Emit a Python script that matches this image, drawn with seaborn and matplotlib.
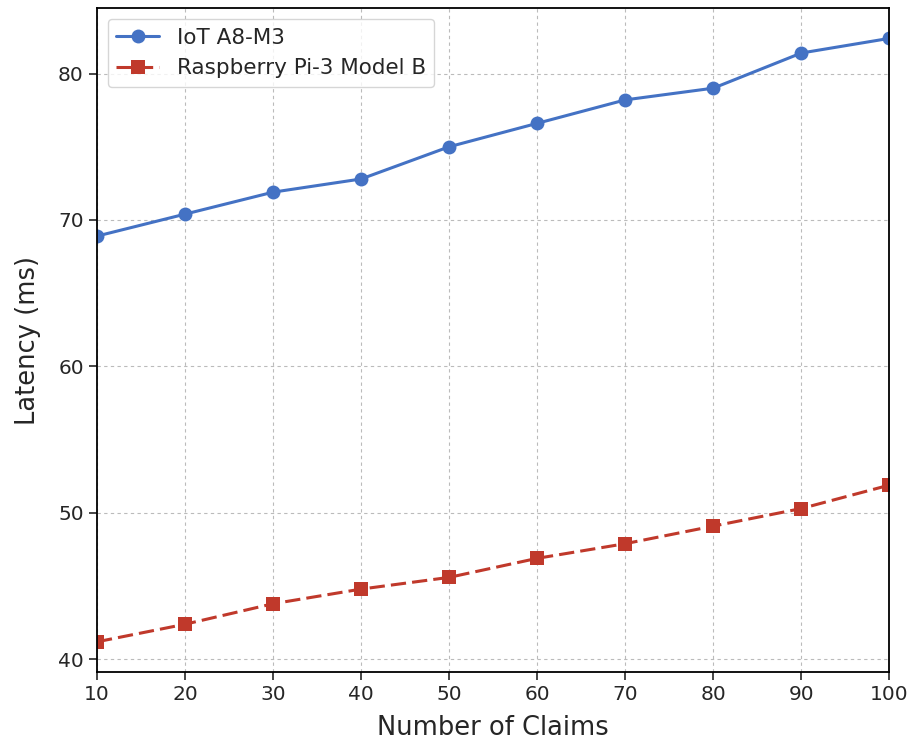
import pandas as pd
import seaborn as sns
import matplotlib
matplotlib.use("Agg")
import matplotlib.pyplot as plt

# Values
claims = [10, 20, 30, 40, 50, 60, 70, 80, 90, 100]
iot_latency = [68.9, 70.4, 71.9, 72.8, 75.0, 76.6, 78.2, 79.0, 81.4, 82.4]
rpi_latency = [41.2, 42.4, 43.8, 44.8, 45.6, 46.9, 47.9, 49.1, 50.3, 51.9]

df = pd.DataFrame({
    'claims': claims * 2,
    'latency': iot_latency + rpi_latency,
    'device': ['IoT A8-M3'] * len(claims) + ['Raspberry Pi-3 Model B'] * len(claims),
})

sns.set_style('ticks')
plt.rcParams['font.family'] = ['DejaVu Sans']

fig = plt.figure(figsize=(9.15, 7.45), dpi=100)
ax = fig.add_axes([0.106, 0.098, 0.866, 0.891])

sns.lineplot(data=df, x='claims', y='latency', hue='device', style='device',
             palette=['#4472C4', '#C0392B'], markers=['o', 's'],
             dashes=[(None, None), (5, 2)], markersize=10, linewidth=2.2,
             markeredgewidth=0, ax=ax)

ax.set_xlim(10, 100)
ax.set_xticks(claims)
ax.set_yticks([40, 50, 60, 70, 80])
ax.grid(True, linestyle=(0, (3, 3)), color='#bbbbbb', linewidth=0.8)
ax.set_xlabel('Number of Claims', fontsize=18.5, labelpad=8)
ax.set_ylabel('Latency (ms)', fontsize=18.5, labelpad=12)
ax.tick_params(labelsize=14.5, length=6, width=1.2)
for s in ax.spines.values():
    s.set_linewidth(1.3)
    s.set_color('black')

leg = ax.legend(loc='upper left', fontsize=15.5, frameon=True)
leg.set_title(None)

fig.savefig('out.png', dpi=100)
